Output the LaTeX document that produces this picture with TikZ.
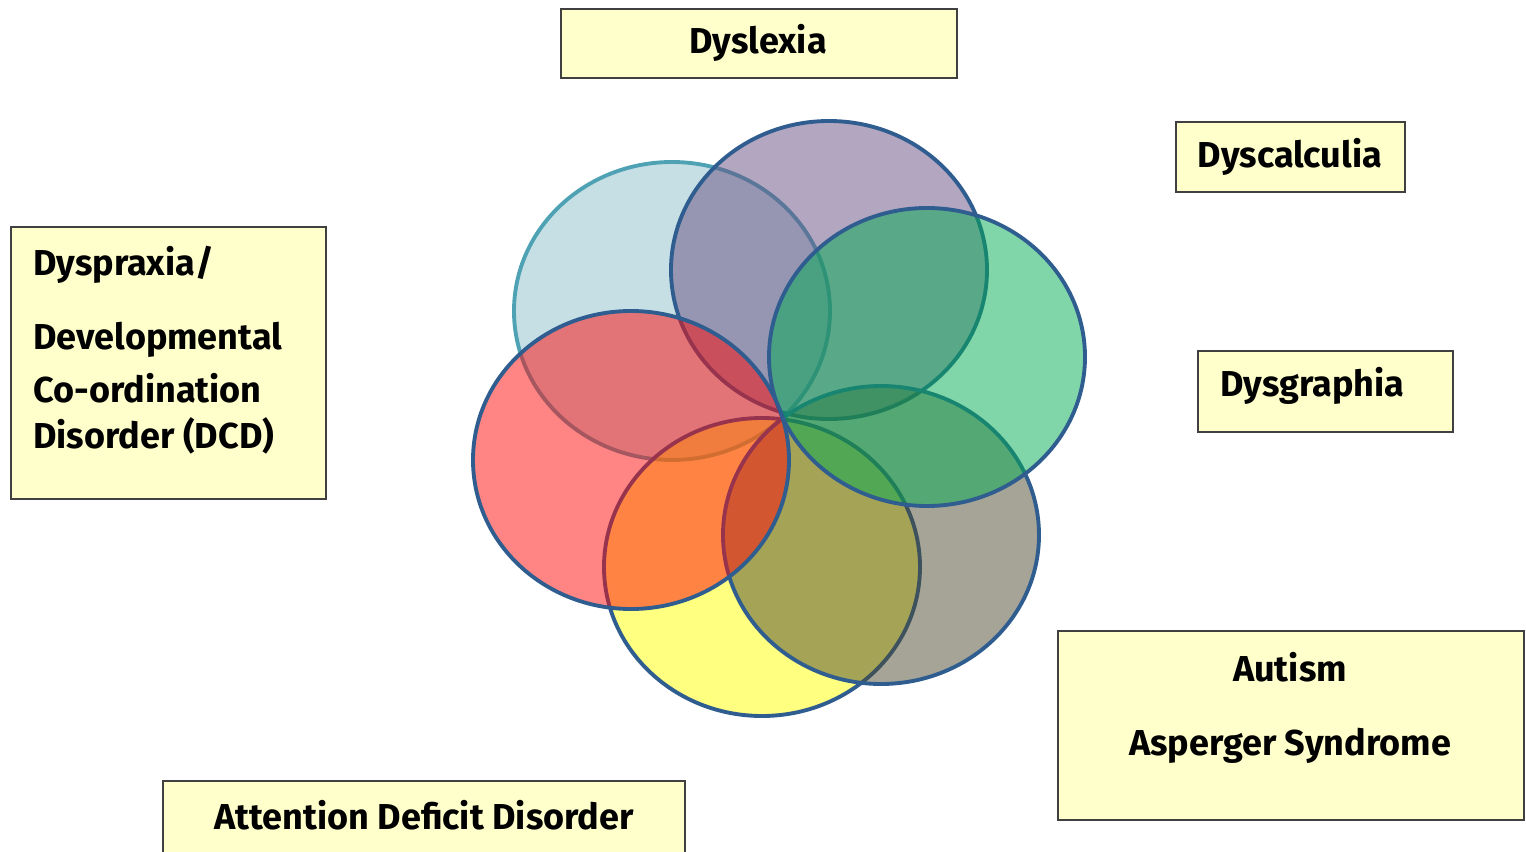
\documentclass[tikz,border=0pt]{standalone}
\usepackage{fontspec}
\setmainfont{Fira Sans}
\definecolor{boxyellow}{HTML}{FFFFCC}
\definecolor{ringblue}{HTML}{2F5D8F}
\definecolor{tealline}{HTML}{4EA2B4}
\definecolor{cblue}{RGB}{141,191,203}
\definecolor{cpurple}{RGB}{103,77,129}
\definecolor{cgreen}{RGB}{1,173,83}
\definecolor{cgrey}{RGB}{77,73,47}
\definecolor{cyellow}{RGB}{255,255,1}
\definecolor{cred}{RGB}{255,11,11}

\begin{document}
\begin{tikzpicture}[x=0.02cm,y=-0.02cm,
  every node/.style={font=\bfseries\fontsize{20.5}{24}\selectfont},
  labelbox/.style={draw=black!75,line width=1.4pt,fill=boxyellow},
  ring/.style={draw=ringblue,line width=2.2pt,fill opacity=0.5}]
  \useasboundingbox (0,0) rectangle (1526,852);

  % Six overlapping ellipses meeting near one point; drawing order
  % follows which outline lies on top in the original.
  \foreach \cx/\cy/\col/\edge in {
    672/311/cblue/tealline,
    829/270/cpurple/ringblue,
    762/567/cyellow/ringblue,
    881/535/cgrey/ringblue,
    927/357/cgreen/ringblue,
    631/460/cred/ringblue}
  {
    \draw[ring,fill=\col,draw=\edge]
      (\cx,\cy) ellipse[x radius=158,y radius=149];
  }

  % Label boxes
  \draw[labelbox] (561,9) rectangle (957,78);
  \node (dyslexia) at (758,43) {Dyslexia};

  \draw[labelbox] (1176,122) rectangle (1405,192);
  \node (dyscalculia) at (1290,157) {Dyscalculia};

  \draw[labelbox] (1198,351) rectangle (1453,432);
  \node[anchor=west,inner sep=0pt] (dysgraphia) at (1220,386) {Dysgraphia};

  \draw[labelbox] (11,227) rectangle (326,499);
  \foreach \ty/\txt in {265/{Dyspraxia/},340/{Developmental},
    388/{Co-ordination},436/{Disorder (DCD)}}
  {
    \node[anchor=west,inner sep=0pt] (dcd-\ty) at (33,\ty) {\txt};
  }

  \draw[labelbox] (1058,631) rectangle (1524,820);
  \node (autism) at (1290,667) {Autism};
  \node (asperger) at (1290,746) {Asperger Syndrome};

  \draw[labelbox] (163,781) rectangle (685,870);
  \node (add) at (424,815) {Attention Deficit Disorder};
\end{tikzpicture}
\end{document}
